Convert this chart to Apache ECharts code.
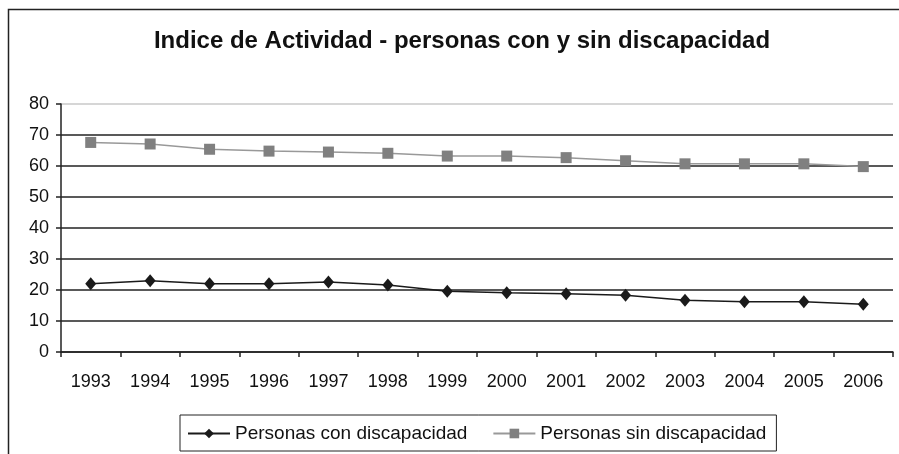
<!DOCTYPE html>
<html><head><meta charset="utf-8">
<script src="https://cdn.jsdelivr.net/npm/echarts@6/dist/echarts.min.js"></script>
<style>html,body{margin:0;padding:0;background:#fff}#c{width:899px;height:454px}</style>
</head><body><div id="c"></div>
<script>
const years = ['1993','1994','1995','1996','1997','1998','1999','2000','2001','2002','2003','2004','2005','2006'];
const conDiscapacidad = [22.0, 23.0, 22.0, 22.0, 22.6, 21.6, 19.6, 19.1, 18.8, 18.3, 16.7, 16.2, 16.2, 15.4];
const sinDiscapacidad = [67.6, 67.1, 65.4, 64.8, 64.5, 64.1, 63.2, 63.2, 62.7, 61.7, 60.7, 60.7, 60.7, 59.8];
const yTicks = [0, 10, 20, 30, 40, 50, 60, 70, 80];
const titleText = 'Indice de Actividad - personas con y sin discapacidad';
const seriesNames = ['Personas con discapacidad', 'Personas sin discapacidad'];

const font = '"Liberation Sans", Arial, sans-serif';
const chart = echarts.init(document.getElementById('c'), null, {renderer: 'canvas'});
chart.setOption({
  backgroundColor: '#fff',
  animation: false,
  title: {
    text: titleText, left: 462, textAlign: 'center', top: 29, padding: 0,
    textStyle: {fontFamily: font, fontSize: 24, fontWeight: 'bold', color: '#111'}
  },
  graphic: [{
    type: 'rect', shape: {x: 8.5, y: 9.5, width: 900, height: 460},
    style: {fill: 'none', stroke: '#222', lineWidth: 1.5}, silent: true, z: 0
  }],
  legend: {
    left: 180, top: 415,
    padding: [9, 10, 8, 7],
    borderColor: '#222', borderWidth: 1, backgroundColor: '#fff',
    itemWidth: 42, itemHeight: 12, itemGap: 25,
    textStyle: {fontFamily: font, fontSize: 19, color: '#111'},
    data: seriesNames
  },
  grid: {left: 61, right: 6, top: 104, bottom: 102, containLabel: false},
  xAxis: {
    type: 'category', data: years, boundaryGap: true,
    axisLine: {lineStyle: {color: '#222', width: 1.5}},
    axisTick: {show: true, length: 5, inside: false, lineStyle: {color: '#222', width: 1.5}},
    axisLabel: {fontFamily: font, fontSize: 18, color: '#111', margin: 21}
  },
  yAxis: {
    type: 'value', min: yTicks[0], max: yTicks[yTicks.length - 1], interval: 10,
    axisLine: {show: true, lineStyle: {color: '#222', width: 1.5}},
    axisTick: {show: true, length: 5, lineStyle: {color: '#222', width: 1.5}},
    axisLabel: {fontFamily: font, fontSize: 18, color: '#111', margin: 12},
    splitLine: {show: true, lineStyle: {color: ['#222','#222','#222','#222','#222','#222','#222','#222','#c8c8c8'], width: 1.5}}
  },
  series: [
    {
      name: seriesNames[0], type: 'line', data: conDiscapacidad,
      symbol: 'diamond', symbolSize: [11, 13],
      lineStyle: {color: '#1a1a1a', width: 1.5},
      itemStyle: {color: '#1a1a1a'}, z: 3
    },
    {
      name: seriesNames[1], type: 'line', data: sinDiscapacidad,
      symbol: 'rect', symbolSize: 11,
      lineStyle: {color: '#999', width: 1.5},
      itemStyle: {color: '#808080'}, z: 3
    }
  ]
});
</script></body></html>
